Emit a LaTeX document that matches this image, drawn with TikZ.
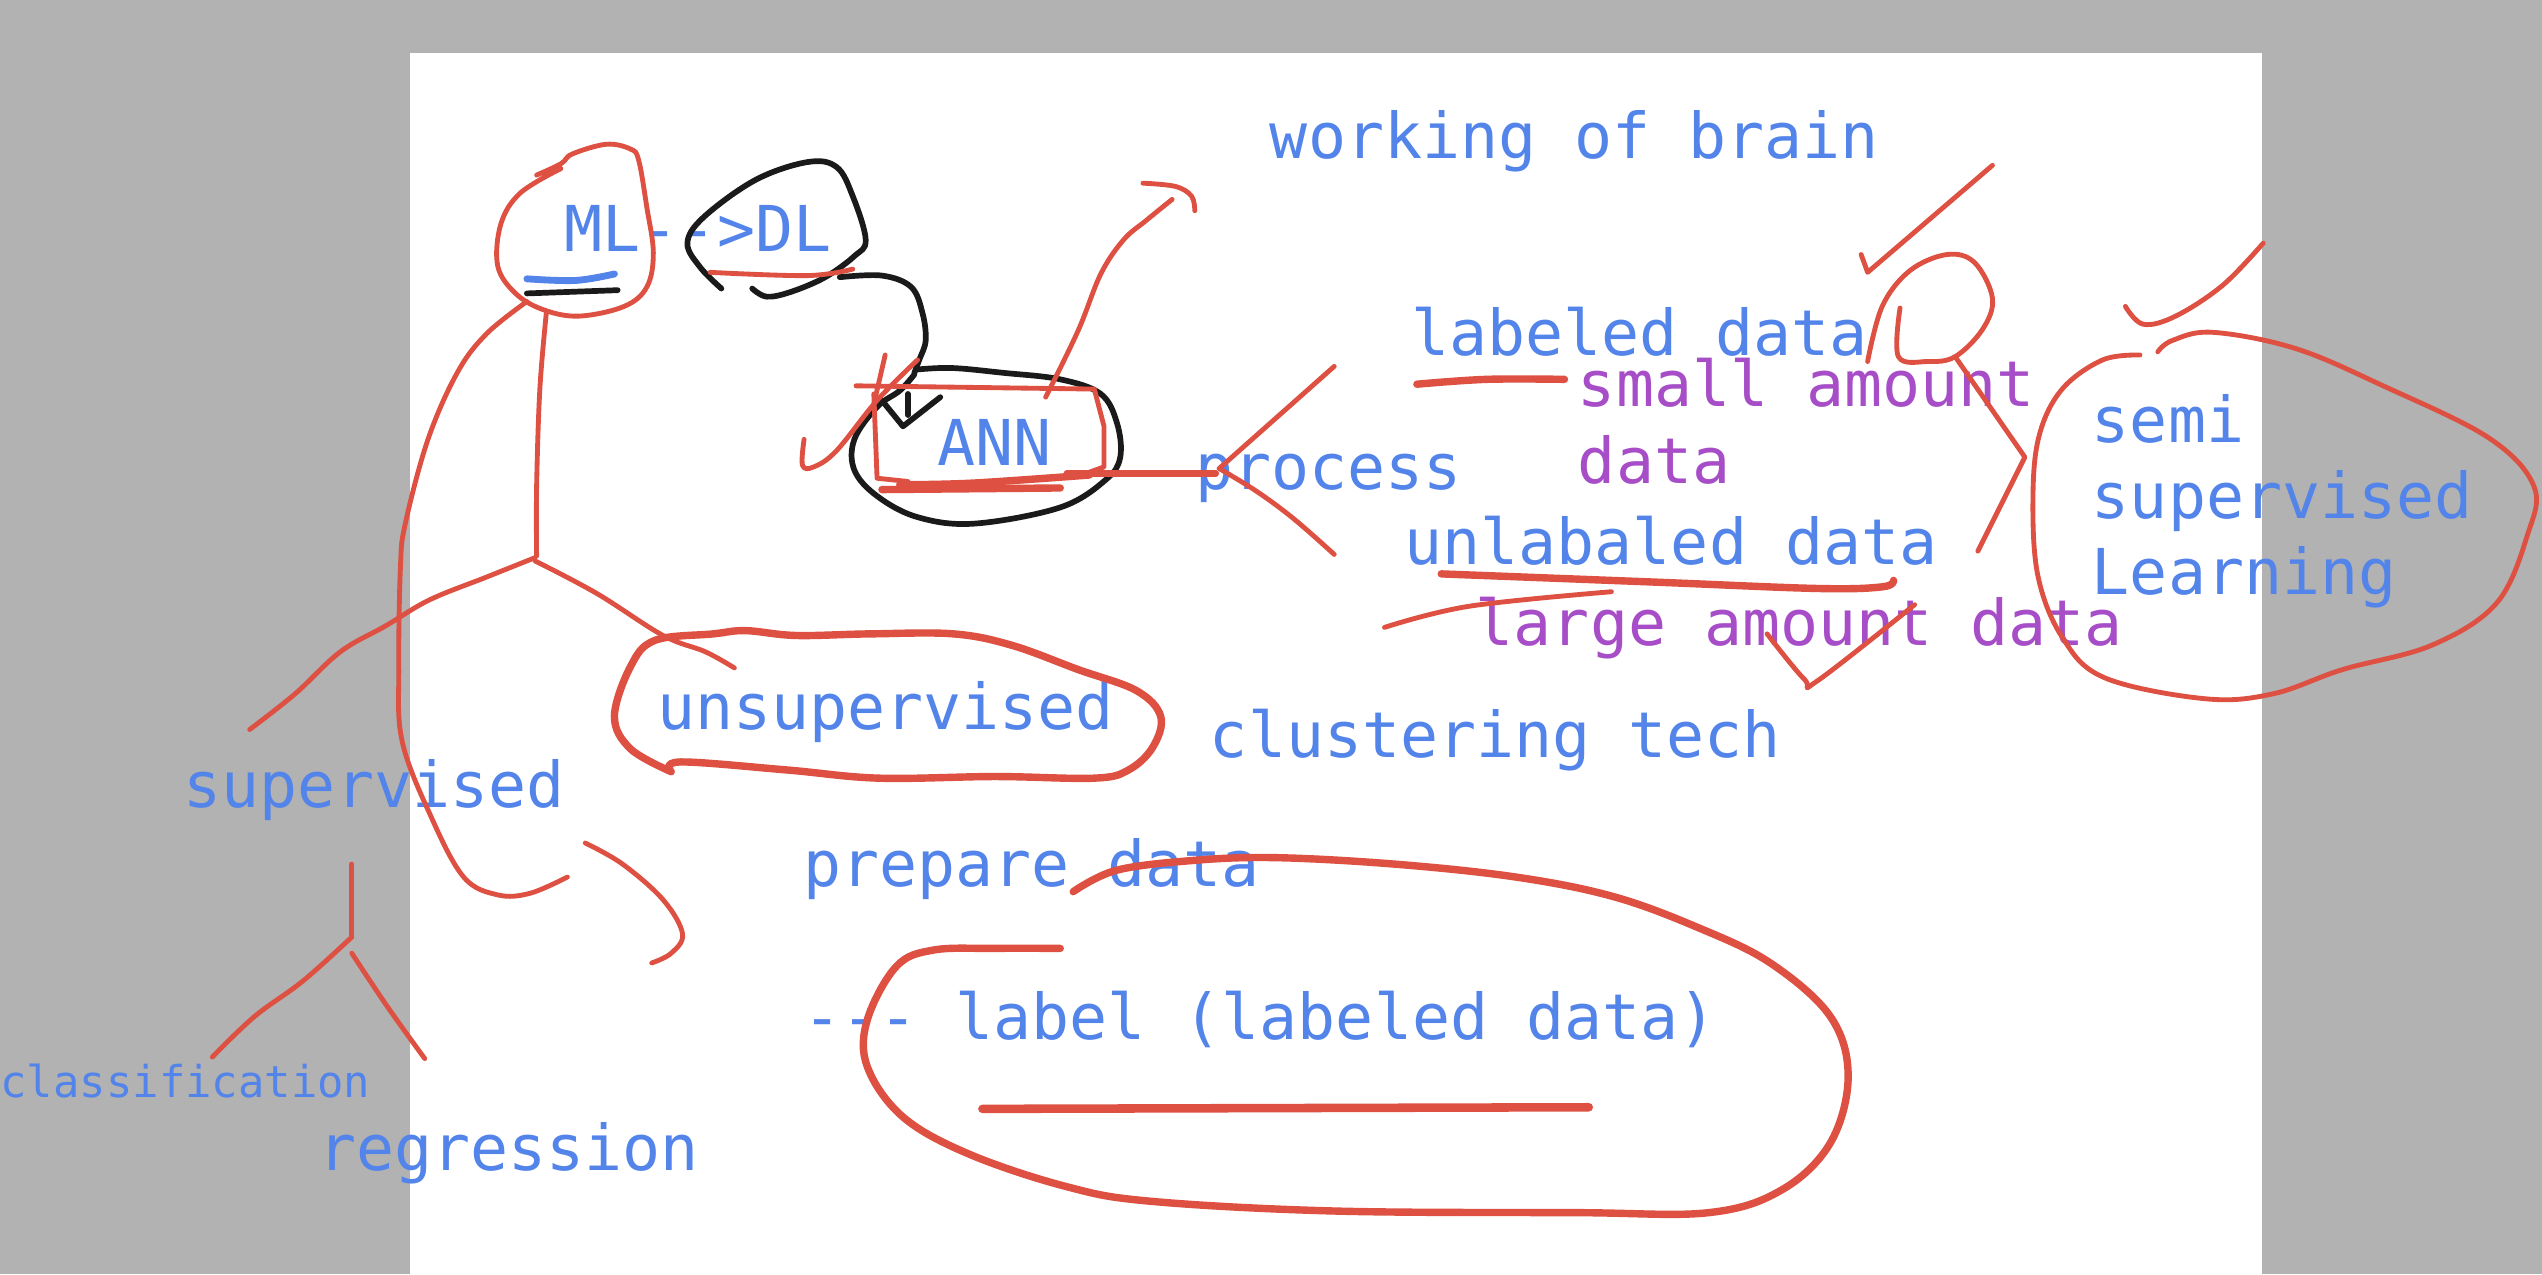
\documentclass[tikz,border=0pt]{standalone}
\usepackage{fontspec}
\usepackage{tikz}
\usepackage{xcolor}
\setmonofont{DejaVu Sans Mono}
\definecolor{wbBlue}{RGB}{83,132,234}
\definecolor{wbPurple}{RGB}{166,77,199}
\definecolor{wbRed}{RGB}{221,80,66}
\definecolor{wbInk}{RGB}{26,26,26}
\definecolor{wbGray}{RGB}{178,178,178}
\tikzset{
  word/.style={inner sep=0pt,anchor=base west,text=wbBlue,
    font=\ttfamily\fontsize{22.2}{26}\selectfont},
  note/.style={word,text=wbPurple},
  smallword/.style={word,font=\ttfamily\fontsize{15.4}{18}\selectfont},
  pen/.style={draw=wbRed,line width=1.7pt,line cap=round,line join=round},
  fatpen/.style={pen,line width=2.6pt},
  ink/.style={draw=wbInk,line width=2pt,line cap=round,line join=round}
}
\newcommand{\stroke}[2]{\draw[#1] plot[smooth,tension=0.6] coordinates {#2};}

\begin{document}
\begin{tikzpicture}[x=0.02cm,y=-0.02cm]
  \useasboundingbox (0,0) rectangle (1568,786);
  \fill[wbGray] (0,0) rectangle (1568,786);
  \fill[white] (253,33) rectangle (1395,786);

  \node[word] (brain) at (783,98) {working of brain};
  \node[word] (mldl) at (348,155) {ML-{}->DL};
  \node[word] (ann) at (578,287) {ANN};
  \node[word] (process) at (737,302) {process};
  \node[word] (labeled) at (870,219) {labeled data};
  \node[note] (small) at (973,251) {small amount};
  \node[note] (smalldata) at (973,298) {data};
  \node[word] (unlabeled) at (866,348) {unlabaled data};
  \node[note] (large) at (910,398) {large amount data};
  \node[word] (semi) at (1290,273) {semi};
  \node[word] (semisup) at (1290,320) {supervised};
  \node[word] (semilearn) at (1290,367) {Learning};
  \node[word] (unsup) at (405,450) {unsupervised};
  \node[word] (cluster) at (746,467) {clustering tech};
  \node[word] (sup) at (113,498) {supervised};
  \node[word] (prepare) at (495,547) {prepare data};
  \node[word] (label) at (495,641) {-{}-{}- label (labeled data)};
  \node[smallword] (classif) at (0,677) {classification};
  \node[word] (regress) at (196,722) {regression};

  \stroke{pen}{(331,108) (346,101) (353,95) (374,89) (389,92) (394,99) (399,128) (403,156) (399,177) (385,189) (357,195) (335,191) (318,181) (307,164) (309,138) (321,119) (346,104)}
  \stroke{draw=wbBlue,line width=2.4pt,line cap=round}{(325,172) (355,173) (379,169)}
  \draw[ink] (325,181) -- (381,179);

  \stroke{ink}{(445,178) (432,165) (424,150) (434,134) (466,111) (498,100) (516,103) (526,121) (534,148) (527,158) (509,171) (488,180) (473,183) (464,178)}
  \stroke{pen}{(438,168) (498,170) (526,166)}
  \stroke{ink}{(518,171) (544,170) (562,177) (569,193) (571,210) (567,222) (564,230)}
  \stroke{ink}{(565,228) (587,227) (619,230) (654,234) (679,243) (689,261) (691,282) (682,296) (654,313) (601,323) (566,319) (541,306) (527,290) (527,271) (541,251) (555,241) (564,231)}
  \draw[ink] (560,243) -- (560,256);
  \draw[ink] (544,247) -- (557,263) -- (580,245);

  \draw[pen] (528,238) -- (675,240) -- (681,263) -- (681,288) -- (670,292);
  \draw[pen] (539,243) -- (541,295) -- (560,297);
  \draw[fatpen] (544,302) -- (654,301);
  \stroke{fatpen}{(555,299) (600,298) (672,293)}
  \draw[pen,line width=2.2pt] (658,292) -- (750,292);

  \stroke{pen}{(496,271) (495,287) (502,288) (516,278) (541,247) (566,222)}
  \draw[pen] (546,219) -- (540,245);
  \stroke{pen}{(645,245) (665,204) (679,169) (693,148) (707,136) (723,123)}
  \stroke{pen}{(705,113) (725,115) (735,121) (737,130)}

  \draw[pen] (823,226) -- (752,289);
  \stroke{pen}{(752,289) (775,303) (798,320) (823,342)}
  \stroke{fatpen}{(874,237) (917,234) (965,234)}

  \stroke{pen}{(1152,223) (1161,189) (1178,167) (1201,157) (1218,162) (1229,184) (1223,203) (1206,220) (1189,223) (1171,220) (1172,190)}
  \draw[pen] (1206,220) -- (1249,282) -- (1220,340);
  \draw[pen] (1148,157) -- (1152,168) -- (1229,102);
  \stroke{pen}{(1311,189) (1322,200) (1342,195) (1371,176) (1396,150)}
  \stroke{pen}{(1320,219) (1297,222) (1272,240) (1258,268) (1254,306) (1257,355) (1272,393) (1298,418) (1360,431) (1402,428) (1445,413) (1500,398) (1540,372) (1559,330) (1563,300) (1535,270) (1470,238) (1416,215) (1365,205) (1340,210) (1331,217)}

  \stroke{fatpen}{(889,354) (1019,359) (1121,363) (1161,362) (1168,358)}
  \stroke{pen}{(854,387) (906,374) (994,365)}
  \stroke{pen}{(1090,391) (1113,419) (1121,420) (1181,373)}

  \stroke{pen}{(337,193) (333,240) (331,300) (331,343)}
  \stroke{pen}{(330,344) (300,356) (265,370) (238,386) (210,402) (182,428) (154,450)}
  \stroke{pen}{(330,346) (368,366) (409,392) (435,402) (453,412)}
  \stroke{pen}{(325,186) (300,206) (282,230) (264,271) (250,323) (247,350) (246,411) (248,457) (266,504) (286,541) (307,552) (327,551) (350,541)}
  \stroke{pen}{(361,520) (384,533) (409,555) (421,576) (414,588) (402,594)}
  \stroke{fatpen}{(414,476) (389,462) (379,442) (389,411) (404,395) (440,391) (460,389) (491,392) (537,391) (588,391) (624,398) (665,413) (701,426) (716,442) (711,461) (696,475) (675,480) (614,479) (542,480) (486,475) (420,470) (414,476)}

  \draw[pen] (217,533) -- (217,578);
  \stroke{pen}{(217,578) (187,605) (157,627) (131,652)}
  \stroke{pen}{(217,588) (239,621) (262,653)}

  \stroke{fatpen}{(662,550) (688,537) (733,531) (785,529) (860,533) (935,541) (995,553) (1047,572) (1092,594) (1129,627) (1140,664) (1129,705) (1099,734) (1054,748) (972,748) (823,747) (710,741) (658,732) (598,712) (557,689) (535,658) (535,629) (553,596) (576,586) (613,585) (654,585)}
  \draw[fatpen,line width=3pt] (606,684) -- (980,683);
\end{tikzpicture}
\end{document}
